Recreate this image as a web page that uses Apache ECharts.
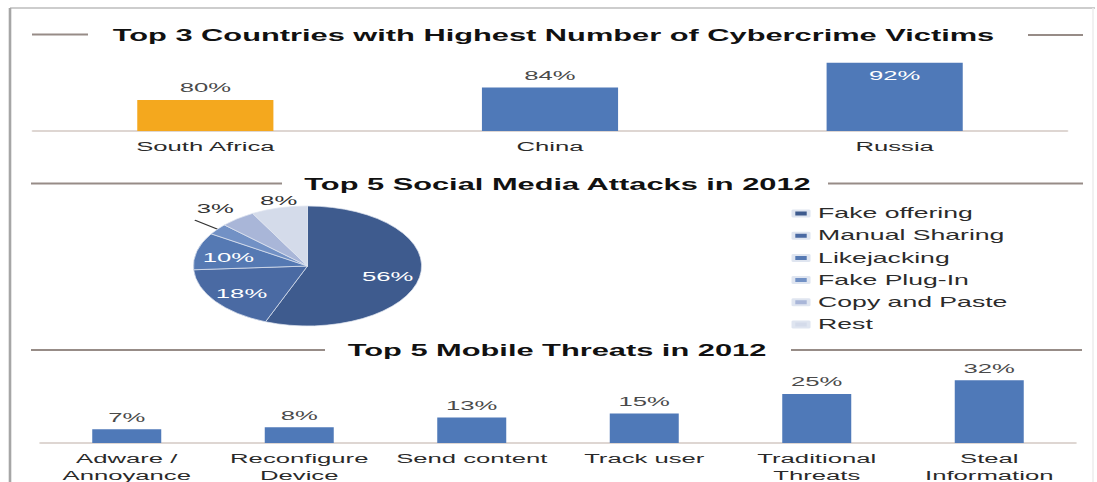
<!DOCTYPE html>
<html>
<head>
<meta charset="utf-8">
<title>Cybercrime overview 2012</title>
<script src="https://cdn.jsdelivr.net/npm/echarts@6/dist/echarts.min.js"></script>
<style>
  html, body { margin: 0; padding: 0; background: #ffffff; overflow: hidden; width: 1097px; height: 482px; }
  /* the chart is laid out on a narrow stage and stretched to the full width */
  #stage { width: 577px; height: 482px; transform-origin: 0 0; transform: scaleX(1.901213); }
</style>
</head>
<body>
<div id="stage"></div>
<script>
// ---- data ----
const countryNames = ['South Africa', 'China', 'Russia'];
const countryVictims = [80, 84, 92];

const socialAttackNames = ['Fake offering', 'Manual Sharing', 'Likejacking', 'Fake Plug-In', 'Copy and Paste', 'Rest'];
const socialAttackShares = [56, 18, 10, 3, 5, 8];

const mobileThreatNames = ['Adware /\nAnnoyance', 'Reconfigure\nDevice', 'Send content', 'Track user', 'Traditional\nThreats', 'Steal\nInformation'];
const mobileThreatShares = [7, 8, 13, 15, 25, 32];

const sectionTitles = [
  'Top 3 Countries with Highest Number of Cybercrime Victims',
  'Top 5 Social Media Attacks in 2012',
  'Top 5 Mobile Threats in 2012'
];

// ---- layout helpers ----
const SX = 1097 / 577;               // horizontal stretch of the stage
const px = v => v / SX;              // page x -> stage x
const FONT = '"Liberation Sans", Arial, Helvetica, sans-serif';

const BLUE = '#4f79b8';
const ORANGE = '#f4a81e';
const highlightCountry = 'South Africa';
const pieColors = ['#3e5b8e', '#4a6aa3', '#5579b3', '#7291c5', '#a9b6d8', '#d4dbea'];
// how each slice label is shown: inside the slice, on a leader, above the rim, or not at all
const pieLabelMode = ['inside', 'inside', 'inside', 'leader', 'none', 'above'];
const pieCx = px(307.5), pieCy = 266, pieR = 60;

const rule = (x1, x2, y) => ({
  type: 'line', silent: true,
  shape: { x1: px(x1), y1: y, x2: px(x2), y2: y },
  style: { stroke: '#978c87', lineWidth: 1.8 }
});
const heading = (text, cx, cy) => ({
  type: 'text', silent: true, x: px(cx), y: cy,
  style: { text, fontFamily: FONT, fontSize: 16.2, fontWeight: 'bold', fill: '#111111', align: 'center', verticalAlign: 'middle' }
});

const chart = echarts.init(document.getElementById('stage'), null, { renderer: 'svg' });

const maxCountry = Math.max(...countryVictims);

chart.setOption({
  animation: false,
  backgroundColor: '#ffffff',
  textStyle: { fontFamily: FONT },
  graphic: [
    // frame
    { type: 'line', silent: true, shape: { x1: px(10), y1: 8, x2: px(1095), y2: 8 }, style: { stroke: '#bcbcbc', lineWidth: 1.5 } },
    { type: 'line', silent: true, shape: { x1: px(10), y1: 8, x2: px(10), y2: 482 }, style: { stroke: '#a6a6a6', lineWidth: px(2.6) } },
    { type: 'line', silent: true, shape: { x1: px(1093), y1: 8, x2: px(1093), y2: 482 }, style: { stroke: '#ececec', lineWidth: px(1.5) } },
    // section headings with side rules
    rule(32, 88, 34.5), heading(sectionTitles[0], 553.5, 35), rule(1028, 1083, 35),
    rule(31, 282, 183.5), heading(sectionTitles[1], 557.5, 184.5), rule(828, 1083, 183.5),
    rule(31, 325, 350), heading(sectionTitles[2], 557, 350.5), rule(791, 1082, 350)
  ],
  grid: [
    { left: px(33), width: px(1034), top: 38, height: 93, outerBoundsMode: 'none' },
    { left: px(40.5), width: px(1035), top: 364.5, height: 78.5, outerBoundsMode: 'none' }
  ],
  xAxis: [
    {
      gridIndex: 0, type: 'category', data: countryNames,
      axisTick: { show: false },
      axisLine: { lineStyle: { color: '#d3c9c3', width: 1.5 } },
      axisLabel: { margin: 8, fontSize: 13.5, color: '#2a2a2a', fontFamily: FONT }
    },
    {
      gridIndex: 1, type: 'category', data: mobileThreatNames,
      axisTick: { show: false },
      axisLine: { lineStyle: { color: '#d3c9c3', width: 1.5 } },
      axisLabel: { margin: 7, interval: 0, fontSize: 13.5, lineHeight: 17, color: '#2a2a2a', fontFamily: FONT }
    }
  ],
  yAxis: [
    { gridIndex: 0, type: 'value', min: 70, max: 100, show: false },
    { gridIndex: 1, type: 'value', min: 0, max: 40, show: false }
  ],
  legend: {
    orient: 'vertical',
    left: px(782), top: 201,
    icon: 'rect', itemWidth: 8, itemHeight: 6, itemGap: 7.2,
    textStyle: { fontSize: 14, lineHeight: 15, color: '#2b2b2b', fontFamily: FONT },
    selectedMode: false,
    data: socialAttackNames
  },
  series: [
    {
      type: 'bar', xAxisIndex: 0, yAxisIndex: 0, barWidth: '39.5%',
      data: countryVictims.map(v => v === maxCountry
        ? { value: v, label: { position: 'insideTop', color: '#ffffff' } }
        : v),
      itemStyle: { color: p => (p.name === highlightCountry ? ORANGE : BLUE) },
      label: { show: true, position: 'top', distance: 5.5, formatter: '{c}%', fontSize: 13.5, color: '#4a4a4a', fontFamily: FONT }
    },
    {
      type: 'pie',
      center: [pieCx, pieCy], radius: pieR,
      startAngle: 90, clockwise: true, avoidLabelOverlap: false,
      itemStyle: { borderColor: '#dfe5f0', borderWidth: 0.5 },
      data: socialAttackNames.map((name, i) => {
        const mode = pieLabelMode[i];
        const item = { name, value: socialAttackShares[i], itemStyle: { color: pieColors[i] } };
        if (mode === 'inside') {
          item.label = { position: 'inside', color: '#ffffff' };
        } else if (mode === 'leader') {
          item.label = { position: 'outside', color: '#333333' };
          item.labelLine = { show: true, length: 15, length2: 0, smooth: false, lineStyle: { color: '#333333', width: 1 } };
        } else if (mode === 'above') {
          item.label = { position: 'outside', color: '#333333' };
          item.labelLine = { show: false, length: 1, length2: 0 };
        } else {
          item.label = { show: false };
          item.labelLine = { show: false };
        }
        return item;
      }),
      label: { show: true, formatter: '{c}%', fontSize: 13.5, fontFamily: FONT },
      labelLayout: function (p) {
        const mode = pieLabelMode[p.dataIndex];
        const r = p.labelRect;
        if (mode === 'inside') {
          // push inner labels a little further out from the centre
          const lx = r.x + r.width / 2, ly = r.y + r.height / 2;
          return { dx: (lx - pieCx) * 0.3, dy: (ly - pieCy) * 0.3 + 2 };
        }
        const pts = p.labelLinePoints;
        if (!pts) return {};
        const end = pts[pts.length - 1];
        if (mode === 'leader') {
          return { x: end[0] + 1, y: end[1] - 5, align: 'left', verticalAlign: 'bottom', labelLinePoints: pts };
        }
        if (mode === 'above') {
          return { x: end[0], y: end[1], align: 'center', verticalAlign: 'bottom' };
        }
        return {};
      }
    },
    {
      type: 'bar', xAxisIndex: 1, yAxisIndex: 1, barWidth: '40%',
      data: mobileThreatShares,
      itemStyle: { color: BLUE },
      label: { show: true, position: 'top', distance: 5.5, formatter: '{c}%', fontSize: 13.5, color: '#4a4a4a', fontFamily: FONT }
    }
  ]
});
</script>
</body>
</html>
